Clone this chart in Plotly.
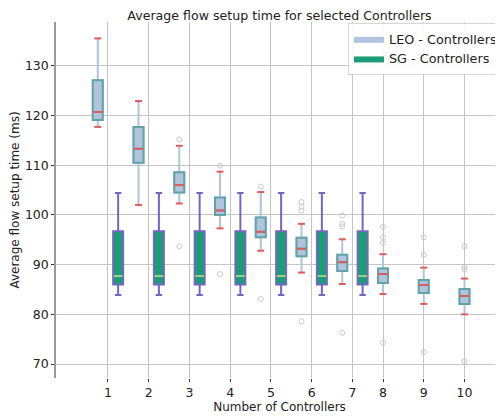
import plotly.graph_objects as go

# ---------------- data ----------------
categories = [1, 2, 3, 4, 5, 6, 7, 8, 9, 10]
tick_labels = ["1", "2", "3", "4", "5", "6", "7", "8", "9", "10"]

leo_lower = [117.7, 102.0, 102.3, 97.3, 92.8, 88.4, 86.1, 84.1, 82.1, 80.0]
leo_q1 = [119.1, 110.5, 104.5, 100.0, 95.5, 91.7, 88.7, 86.3, 84.3, 82.1]
leo_median = [120.7, 113.3, 106.0, 100.9, 96.6, 93.2, 90.5, 88.1, 85.9, 83.7]
leo_q3 = [127.1, 117.7, 108.6, 103.5, 99.5, 95.4, 92.0, 89.2, 86.9, 85.1]
leo_upper = [135.5, 122.9, 113.9, 108.7, 104.6, 98.2, 95.1, 92.1, 89.4, 87.2]
leo_outliers = [
    [],
    [],
    [115.2, 93.7],
    [109.9, 88.1],
    [105.7, 83.1],
    [102.6, 101.6, 100.9, 78.6],
    [99.9, 98.2, 97.7, 76.3],
    [97.6, 95.5, 94.4, 74.3],
    [95.5, 92.0, 72.4],
    [93.7, 89.5, 89.0, 70.6],
]

sg_categories = [1, 2, 3, 4, 5, 6, 7]
sg_lower = [83.9] * 7
sg_q1 = [86.0] * 7
sg_median = [87.7] * 7
sg_q3 = [96.7] * 7
sg_upper = [104.4] * 7

y_ticks = [70, 80, 90, 100, 110, 120, 130]

# ---------------- style ----------------
FONT = "DejaVu Sans"
LEO_FILL = "#b0c4de"
LEO_EDGE = "#62a3a6"
LEO_WHISK = "#b0c4de"
LEO_RED = "#e05a5a"
SG_FILL = "#1b9e77"
SG_EDGE = "#7566c4"
SG_MED = "#9ad67e"
OUT_COL = "#c9c9c9"
GRID = "#c4c4c4"

BOX_W = 0.245
CAP_HALF = 0.085
SG_OFFSET = 0.5
TICK_OFFSET = 0.25

leo_x = [float(c) for c in categories]
sg_x = [c + SG_OFFSET for c in sg_categories]
tick_x = [c + TICK_OFFSET if c in sg_categories else float(c) for c in categories]


def segs(xs, ys, half):
    sx, sy = [], []
    for x, y in zip(xs, ys):
        sx += [x - half, x + half, None]
        sy += [y, y, None]
    return sx, sy


fig = go.Figure()

# LEO whiskers (light blue)
fig.add_trace(go.Box(
    x=leo_x, q1=leo_q1, median=leo_median, q3=leo_q3,
    lowerfence=leo_lower, upperfence=leo_upper,
    width=BOX_W, whiskerwidth=0, boxpoints=False,
    line=dict(color=LEO_WHISK, width=2), fillcolor=LEO_FILL,
    showlegend=False, hoverinfo="skip",
))
# LEO boxes (teal edge)
fig.add_trace(go.Box(
    x=leo_x, q1=leo_q1, median=leo_median, q3=leo_q3,
    lowerfence=leo_q1, upperfence=leo_q3,
    width=BOX_W, whiskerwidth=0, boxpoints=False,
    line=dict(color=LEO_EDGE, width=2), fillcolor=LEO_FILL,
    showlegend=False, hoverinfo="skip",
))
# SG boxes
fig.add_trace(go.Box(
    x=sg_x, q1=sg_q1, median=sg_median, q3=sg_q3,
    lowerfence=sg_lower, upperfence=sg_upper,
    width=BOX_W, whiskerwidth=0.65, boxpoints=False,
    line=dict(color=SG_EDGE, width=2), fillcolor=SG_FILL,
    showlegend=False, hoverinfo="skip",
))

# LEO caps & medians (red)
cx, cy = segs(leo_x + leo_x, leo_lower + leo_upper, CAP_HALF)
fig.add_trace(go.Scatter(x=cx, y=cy, mode="lines", line=dict(color=LEO_RED, width=2),
                         showlegend=False, hoverinfo="skip"))
mx, my = segs(leo_x, leo_median, BOX_W / 2 - 0.01)
fig.add_trace(go.Scatter(x=mx, y=my, mode="lines", line=dict(color=LEO_RED, width=2),
                         showlegend=False, hoverinfo="skip"))
# SG medians (light green)
gx, gy = segs(sg_x, sg_median, BOX_W / 2 - 0.015)
fig.add_trace(go.Scatter(x=gx, y=gy, mode="lines", line=dict(color=SG_MED, width=2),
                         showlegend=False, hoverinfo="skip"))

# outliers
ox, oy = [], []
for x, outs in zip(leo_x, leo_outliers):
    for v in outs:
        ox.append(x)
        oy.append(v)
fig.add_trace(go.Scatter(x=ox, y=oy, mode="markers",
                         marker=dict(symbol="circle-open", size=5, color=OUT_COL,
                                     line=dict(width=1, color=OUT_COL)),
                         showlegend=False, hoverinfo="skip"))

# legend entries
fig.add_trace(go.Scatter(x=[None], y=[None], mode="lines", fill="toself",
                         fillcolor=LEO_FILL, line=dict(width=0, color=LEO_FILL),
                         name="LEO - Controllers"))
fig.add_trace(go.Scatter(x=[None], y=[None], mode="lines", fill="toself",
                         fillcolor=SG_FILL, line=dict(width=0, color=SG_FILL),
                         name="SG - Controllers"))

# the page adds an 8px body margin, so the figure is sized 8px smaller each way
fig.update_layout(
    width=495, height=408,
    margin=dict(l=48, r=0, t=14, b=38),
    paper_bgcolor="white", plot_bgcolor="white",
    font=dict(family=FONT, size=12, color="#222"),
    boxmode="overlay",
    title=dict(text="Average flow setup time for selected Controllers",
               x=0.5, xref="paper", xanchor="center",
               y=1 - 8 / 408, yref="container", yanchor="middle",
               font=dict(size=12.6, color="#222")),
    legend=dict(x=1, xanchor="right", y=1 - 1 / 356, yanchor="top",
                bgcolor="rgba(255,255,255,0.9)", bordercolor="#d6d6d6", borderwidth=1,
                font=dict(size=12.8), tracegroupgap=0, itemwidth=30),
    showlegend=True,
)
fig.update_xaxes(
    range=[-0.025, 10.945], tickmode="array", tickvals=tick_x, ticktext=tick_labels,
    showgrid=True, gridcolor=GRID, gridwidth=1, zeroline=False, showline=False,
    ticks="outside", ticklen=3, tickcolor="#333", tickfont=dict(size=12.5),
    title=dict(text="Number of Controllers", standoff=2, font=dict(size=12)),
)
fig.update_yaxes(
    range=[67.2, 138.8], tickmode="array", tickvals=y_ticks,
    showgrid=True, gridcolor=GRID, gridwidth=1, zeroline=False,
    showline=True, linecolor="#9a9a9a", linewidth=1.5,
    ticks="outside", ticklen=3, tickcolor="#333", tickfont=dict(size=12.5),
    title=dict(text="Average flow setup time (ms)", standoff=4, font=dict(size=12)),
)

fig.write_html("out.html")
